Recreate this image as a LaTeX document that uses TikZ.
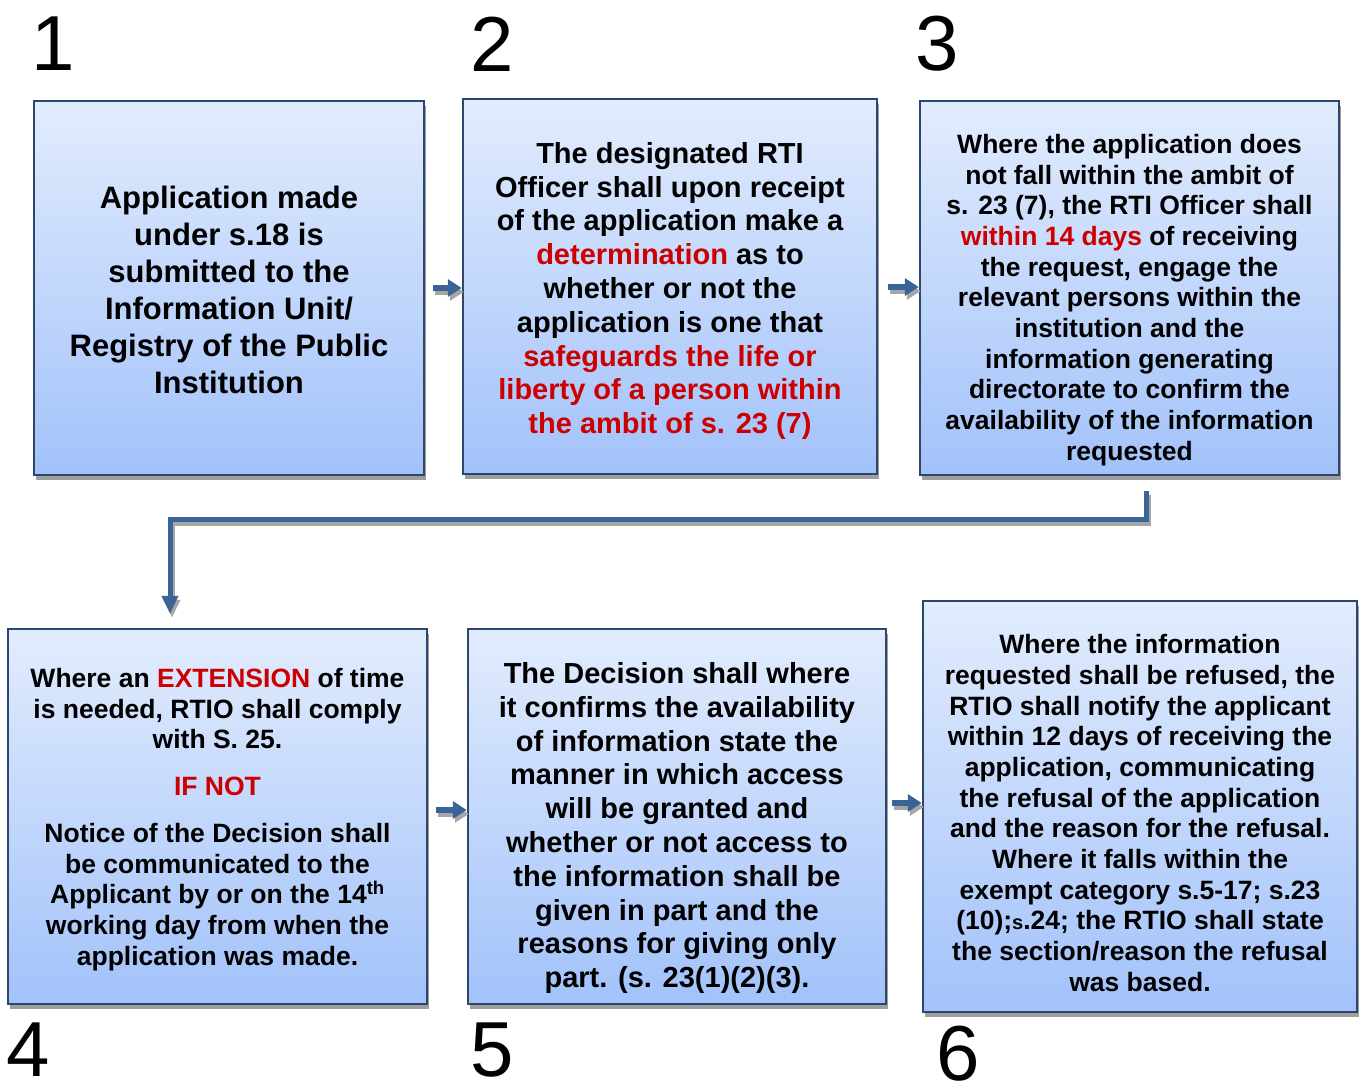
\documentclass[tikz,border=0pt]{standalone}
\usepackage{fontspec}
\setmainfont{Liberation Sans}
\usetikzlibrary{arrows.meta,shadows,calc}
\definecolor{boxtop}{RGB}{226,236,253}
\definecolor{boxbot}{RGB}{162,194,250}
\definecolor{boxline}{RGB}{44,70,108}
\definecolor{arr}{RGB}{58,100,152}
\definecolor{rd}{RGB}{204,0,0}
\newcommand{\rt}[1]{\textcolor{rd}{#1}}
\begin{document}
\begin{tikzpicture}[x=1pt,y=-1pt,
  box/.style={draw=boxline,line width=2.5pt,top color=boxtop,bottom color=boxbot,inner sep=0pt,
    general shadow={fill=black!38,shadow xshift=2pt,shadow yshift=-5pt}},
  num/.style={inner sep=0pt,font=\fontsize{78}{78}\selectfont},
  ta/.style={inner sep=0pt,align=center,font=\bfseries\fontsize{31}{37}\selectfont},
  tb/.style={inner sep=0pt,align=center,font=\bfseries\fontsize{29}{33.8}\selectfont},
  tc/.style={inner sep=0pt,align=center,font=\bfseries\fontsize{26.5}{30.7}\selectfont},
  blk/.style={draw=arr,line width=6pt,-{Triangle[length=14pt,width=17pt]}},
  blkshadow/.style={draw=black!35,line width=6pt,-{Triangle[length=14pt,width=17pt]},transform canvas={xshift=2pt,yshift=-4pt}},
  conn/.style={draw=arr,line width=5pt,-{Triangle[length=18pt,width=16pt]}},
  connshadow/.style={draw=black!35,line width=5pt,-{Triangle[length=18pt,width=16pt]},transform canvas={xshift=2pt,yshift=-4pt}}
]
\useasboundingbox (0,0) rectangle (1363,1087);

% numbers
\node[num] (n1) at (53,44) {1};
\node[num] (n2) at (492,44) {2};
\node[num] (n3) at (937,44) {3};
\node[num] (n4) at (28,1050) {4};
\node[num] (n5) at (492,1050) {5};
\node[num] (n6) at (958,1054) {6};

% boxes
\node[box,minimum width=390pt,minimum height=374pt] (b1) at (229,288) {};
\node[box,minimum width=414pt,minimum height=375pt] (b2) at (670,286.5) {};
\node[box,minimum width=419pt,minimum height=374pt] (b3) at (1129.5,288) {};
\node[box,minimum width=419pt,minimum height=375pt] (b4) at (217.5,816.5) {};
\node[box,minimum width=418pt,minimum height=375pt] (b5) at (677,816.5) {};
\node[box,minimum width=434pt,minimum height=411pt] (b6) at (1140,806.5) {};

% texts
\node[ta] (t1) at (229,290) {Application made\\under s.18 is\\submitted to the\\Information Unit/\\Registry of the Public\\Institution};
\node[tb] (t2) at (670,291) {The designated RTI\\Officer shall upon receipt\\of the application make a\\\rt{determination} as to\\whether or not the\\application is one that\\\rt{safeguards the life or}\\\rt{liberty of a person within}\\\rt{the ambit of s. 23 (7)}};
\node[tc] (t3) at (1129.5,300) {Where the application does\\not fall within the ambit of\\s. 23 (7), the RTI Officer shall\\\rt{within 14 days} of receiving\\the request, engage the\\relevant persons within the\\institution and the\\information generating\\directorate to confirm the\\availability of the information\\requested};
\node[tc] (t4) at (217.5,819.5) {Where an \rt{EXTENSION} of time\\is needed, RTIO shall comply\\with S. 25.\\[16pt]\rt{IF NOT}\\[16pt]Notice of the Decision shall\\be communicated to the\\Applicant by or on the 14\textsuperscript{th}\\working day from when the\\application was made.};
\node[tb] (t5) at (677,828) {The Decision shall where\\it confirms the availability\\of information state the\\manner in which access\\will be granted and\\whether or not access to\\the information shall be\\given in part and the\\reasons for giving only\\part. (s. 23(1)(2)(3).};
\node[tc] (t6) at (1140,813) {Where the information\\requested shall be refused, the\\RTIO shall notify the applicant\\within 12 days of receiving the\\application, communicating\\the refusal of the application\\and the reason for the refusal.\\Where it falls within the\\exempt category s.5-17; s.23\\(10);{\fontsize{20}{20}\selectfont s}.24; the RTIO shall state\\the section/reason the refusal\\was based.};

% small arrows
\coordinate (a1) at ([xshift=8pt]b1.east);
\coordinate (a2) at ([xshift=10pt,yshift=-0.5pt]b2.east);
\coordinate (a4) at ([xshift=8pt,yshift=6.5pt]b4.east);
\coordinate (a5) at ([xshift=5pt,yshift=13.5pt]b5.east);
\draw[blkshadow] (a1) -- (a1 -| b2.west);
\draw[blk] (a1) -- (a1 -| b2.west);
\draw[blkshadow] (a2) -- (a2 -| b3.west);
\draw[blk] (a2) -- (a2 -| b3.west);
\draw[blkshadow] (a4) -- (a4 -| b5.west);
\draw[blk] (a4) -- (a4 -| b5.west);
\draw[blkshadow] (a5) -- (a5 -| b6.west);
\draw[blk] (a5) -- (a5 -| b6.west);

% connector 3 -> 4
\coordinate (c3) at ([xshift=16.5pt,yshift=-15pt]b3.south);
\coordinate (c4) at ([xshift=-47.5pt,yshift=14pt]b4.north);
\draw[connshadow] (c3) -- ++(0,28) -| (c4);
\draw[conn] (c3) -- ++(0,28) -| (c4);
\end{tikzpicture}
\end{document}
